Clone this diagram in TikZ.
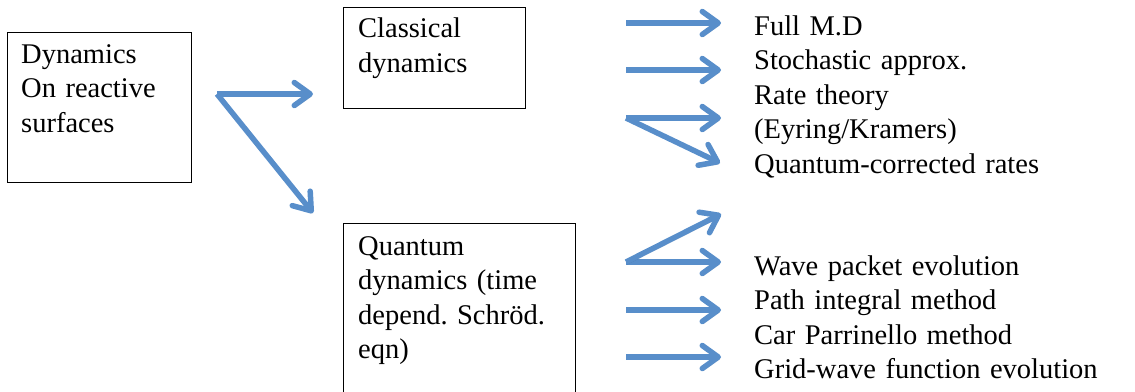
\documentclass[tikz,border=0pt]{standalone}
\usepackage{fontspec}
\setmainfont{Liberation Serif}
\usetikzlibrary{arrows.meta,positioning}
\definecolor{arrowblue}{RGB}{88,142,202}

\begin{document}
\begin{tikzpicture}[x=1pt,y=-1pt,
  box/.style={draw,line width=1.1pt,anchor=north west,inner sep=0pt},
  txt/.style={anchor=north west,inner sep=0pt,align=left,text width=#1,
    font={\fontsize{28.5}{34.5}\selectfont\frenchspacing}},
  txt/.default=380pt,
  flow/.style={-{Straight Barb[length=16pt,width=23pt,round]},
    line width=5.5pt,draw=arrowblue,
    preaction={draw=black,opacity=.12,transform canvas={shift={(1pt,-2.5pt)}}}}]
\useasboundingbox (0,0) rectangle (1135,391);
\clip (0,0) rectangle (1135,391);
% boxes
\node[box,minimum width=184pt,minimum height=150pt] (dynbox) at (7,32) {};
\node[box,minimum width=182pt,minimum height=101pt] (clsbox) at (343,7) {};
\node[box,minimum width=232pt,minimum height=180pt] (qntbox) at (343,223) {};
\node[txt=170pt,below right=6.85pt and 14pt of dynbox.north west] (dyn)
  {\strut Dynamics\\On reactive\\surfaces};
\node[txt=170pt,below right=6.15pt and 15pt of clsbox.north west] (cls)
  {\strut Classical\\dynamics};
\node[txt=220pt,below right=7.85pt and 15pt of qntbox.north west] (qnt)
  {\strut Quantum\\dynamics (time\\depend. Schr\"od.\\eqn)};
% method lists
\node[txt] (clslist) at (754,10.85)
  {\strut Full M.D\\Stochastic approx.\\Rate theory\\(Eyring/Kramers)\\Quantum-corrected rates};
\node[txt] (qntlist) at (754,250.85)
  {\strut Wave packet evolution\\Path integral method\\Car Parrinello method\\Grid-wave function evolution};
% arrows
\coordinate (fork) at (217,94);
\coordinate (clsin) at (313,94);
\coordinate (qntin) at (313,213);
\draw[flow] (fork) -- (clsin);
\draw[flow] (fork) -- (qntin);
\foreach \nm/\yy in {md/23,sto/70,rate/118,wave/262,path/310,grid/357}{
  \coordinate (\nm-s) at (626,\yy);
  \coordinate (\nm-e) at (721,\yy);
  \draw[flow] (\nm-s) -- (\nm-e);
}
\coordinate (qcr-e) at (720,163);
\coordinate (up-e) at (721,214);
\draw[flow] (rate-s) -- (qcr-e);
\draw[flow] (wave-s) -- (up-e);
\end{tikzpicture}
\end{document}
